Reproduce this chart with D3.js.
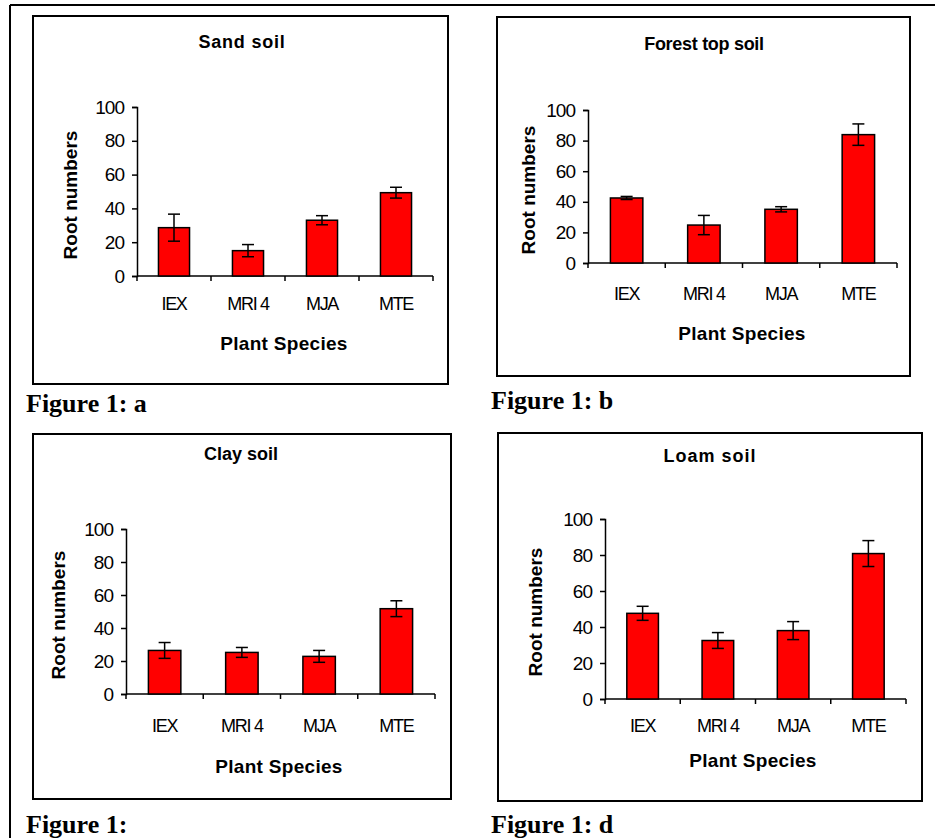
<!DOCTYPE html>
<html>
<head>
<meta charset="utf-8">
<script src="https://cdn.jsdelivr.net/npm/d3@7"></script>
<style>
body { margin: 0; background: #fff; }
svg { display: block; }
text { font-family: "Liberation Sans", Arial, sans-serif; fill: #000; }
.caption { font-family: "Liberation Serif", "Times New Roman", serif; font-weight: bold; font-size: 26px; }
</style>
</head>
<body>
<div id="chart"></div>
<script>
var categories = ["IEX", "MRI 4", "MJA", "MTE"];
var yTicks = [0, 20, 40, 60, 80, 100];

var titles = ["Sand soil", "Forest top soil", "Clay soil", "Loam soil"];
var titleSpacing = [0.8, -0.3, 0, 1];
var captions = ["Figure 1: a", "Figure 1: b", "Figure 1:", "Figure 1: d"];

var sandValues = [28.6, 15, 33, 49.3];
var sandErrors = [8, 3.6, 2.7, 3.2];
var forestValues = [42.5, 24.8, 35.1, 83.9];
var forestErrors = [1, 6.3, 1.7, 7];
var clayValues = [26.4, 25.2, 22.8, 51.7];
var clayErrors = [4.8, 3, 3.6, 4.8];
var loamValues = [47.6, 32.5, 38, 80.8];
var loamErrors = [3.9, 4.4, 5, 7.2];

var allValues = [sandValues, forestValues, clayValues, loamValues];
var allErrors = [sandErrors, forestErrors, clayErrors, loamErrors];

// where each panel sits on the page
var layout = [
	{box:[33,16,448,384], x0:137, x1:433, yTop:107, yBot:276, tx:242, ty:48, lab:310, sx:284, sy:350, rx:70, ry:195, cx:26, cy:412},
	{box:[497,17,910,376], x0:588, x1:897, yTop:110, yBot:263, tx:704, ty:50, lab:300, sx:742, sy:340, rx:528, ry:190, cx:491, cy:409},
	{box:[33,434,451,799], x0:126, x1:435, yTop:529, yBot:694, tx:241, ty:460, lab:732, sx:279, sy:773, rx:58, ry:615, cx:26, cy:833},
	{box:[498,433,922,801], x0:605, x1:906, yTop:519, yBot:699, tx:710, ty:462, lab:732, sx:753, sy:767, rx:535, ry:612, cx:491, cy:833}
];

var width = 935, height = 838;

var svg = d3.select("#chart")
	.append("svg")
	.attr("width", width)
	.attr("height", height);

// outer page frame: top and left only
svg.append("line").attr("x1",10).attr("x2",935).attr("y1",5).attr("y2",5)
	.attr("stroke","#000").attr("stroke-width",2);
svg.append("line").attr("x1",10).attr("x2",10).attr("y1",5).attr("y2",838)
	.attr("stroke","#000").attr("stroke-width",2);

for (var i = 0; i < layout.length; i++)
{
	var L = layout[i];
	var values = allValues[i];
	var errors = allErrors[i];

	var g = svg.append("g");

	g.append("rect")
		.attr("x", L.box[0]).attr("y", L.box[1])
		.attr("width", L.box[2]-L.box[0]).attr("height", L.box[3]-L.box[1])
		.attr("fill", "none").attr("stroke", "#000").attr("stroke-width", 2);

	var x = d3.scaleBand().domain(categories).range([L.x0, L.x1]);
	var y = d3.scaleLinear().domain([0, 100]).range([L.yBot, L.yTop]);

	var yAxis = g.append("g")
		.attr("transform", `translate(${L.x0},0)`)
		.call(d3.axisLeft(y).tickValues(yTicks).tickSize(5).tickPadding(8));
	yAxis.select(".domain").attr("stroke-width", 1.5);
	yAxis.selectAll(".tick line").attr("stroke-width", 1.5);
	yAxis.selectAll(".tick text")
		.style("font-size", "19px")
		.style("letter-spacing", "-1px")
		.style("font-family", "Liberation Sans, Arial, sans-serif");

	// x axis line plus ticks at category boundaries
	g.append("line")
		.attr("x1", L.x0).attr("x2", L.x1)
		.attr("y1", y(0)).attr("y2", y(0))
		.attr("stroke", "#000").attr("stroke-width", 1.5);
	var edges = categories.map(c => x(c)).concat([L.x1]);
	g.selectAll(".xtick")
		.data(edges)
		.join("line")
		.attr("x1", d => d).attr("x2", d => d)
		.attr("y1", y(0)).attr("y2", y(0)+5)
		.attr("stroke", "#000").attr("stroke-width", 1.5);

	g.selectAll(".xlab")
		.data(categories)
		.join("text")
		.attr("x", d => x(d) + x.bandwidth()/2)
		.attr("y", L.lab)
		.attr("text-anchor", "middle")
		.style("font-size", "18px")
		.style("letter-spacing", "-1.3px")
		.text(d => d);

	var bw = x.bandwidth()*0.42;

	g.selectAll(".bar")
		.data(values)
		.join("rect")
		.attr("x", (d,j) => x(categories[j]) + x.bandwidth()/2 - bw/2)
		.attr("y", d => y(d))
		.attr("width", bw)
		.attr("height", d => y(0) - y(d))
		.attr("fill", "#ff0000")
		.attr("stroke", "#000")
		.attr("stroke-width", 1.5);

	var err = g.selectAll(".err")
		.data(values)
		.join("g");
	err.append("line")
		.attr("x1", (d,j) => x(categories[j]) + x.bandwidth()/2)
		.attr("x2", (d,j) => x(categories[j]) + x.bandwidth()/2)
		.attr("y1", (d,j) => y(d + errors[j]))
		.attr("y2", (d,j) => y(d - errors[j]))
		.attr("stroke", "#000").attr("stroke-width", 1.5);
	err.append("line")
		.attr("x1", (d,j) => x(categories[j]) + x.bandwidth()/2 - 6)
		.attr("x2", (d,j) => x(categories[j]) + x.bandwidth()/2 + 6)
		.attr("y1", (d,j) => y(d + errors[j]))
		.attr("y2", (d,j) => y(d + errors[j]))
		.attr("stroke", "#000").attr("stroke-width", 1.5);
	err.append("line")
		.attr("x1", (d,j) => x(categories[j]) + x.bandwidth()/2 - 6)
		.attr("x2", (d,j) => x(categories[j]) + x.bandwidth()/2 + 6)
		.attr("y1", (d,j) => y(d - errors[j]))
		.attr("y2", (d,j) => y(d - errors[j]))
		.attr("stroke", "#000").attr("stroke-width", 1.5);

	g.append("text")
		.attr("x", L.tx).attr("y", L.ty)
		.attr("text-anchor", "middle")
		.style("font-size", "18px")
		.style("font-weight", "bold")
		.style("letter-spacing", titleSpacing[i] + "px")
		.text(titles[i]);

	g.append("text")
		.attr("x", L.sx).attr("y", L.sy)
		.attr("text-anchor", "middle")
		.style("font-size", "19px")
		.style("font-weight", "bold")
		.style("letter-spacing", "0.3px")
		.text("Plant Species");

	g.append("text")
		.attr("transform", `translate(${L.rx},${L.ry}) rotate(-90)`)
		.attr("text-anchor", "middle")
		.attr("dominant-baseline", "central")
		.style("font-size", "19px")
		.style("font-weight", "bold")
		.text("Root numbers");

	g.append("text")
		.attr("class", "caption")
		.attr("x", L.cx).attr("y", L.cy)
		.text(captions[i]);
}
</script>
</body>
</html>
